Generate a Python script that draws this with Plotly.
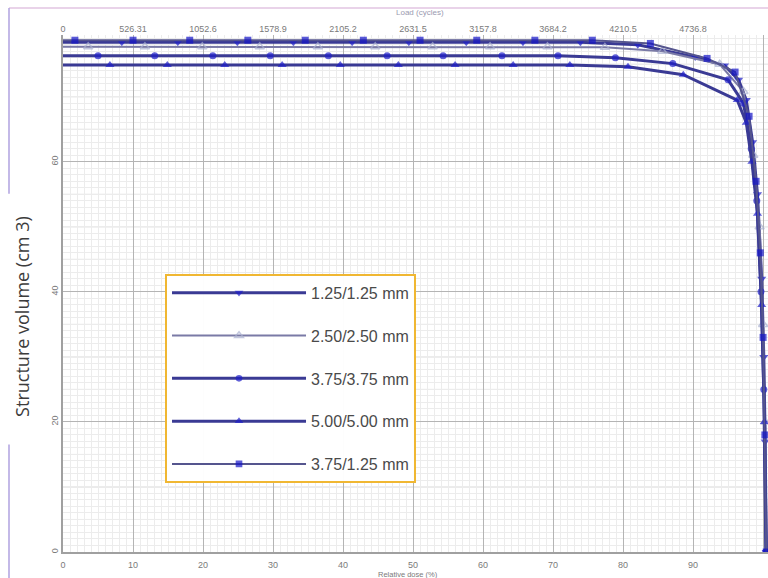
import plotly.graph_objects as go

# ---------------- data ----------------
# x: relative dose (%), y: structure volume (cm 3)
names = ["1.25/1.25 mm", "2.50/2.50 mm", "3.75/3.75 mm", "5.00/5.00 mm", "3.75/1.25 mm"]

x_125 = [0, 8.4, 16.4, 24.9, 32.9, 41.3, 49.4, 57.6, 65.7, 73.9, 82.1, 90.3, 94.5, 96.5, 97.6, 98.5, 99.2, 99.8, 100.1, 100.3, 100.45]
y_125 = [78.4, 78.4, 78.4, 78.4, 78.4, 78.4, 78.4, 78.4, 78.4, 78.4, 78.0, 76.1, 74.8, 72.6, 69.5, 63.0, 55.0, 42.0, 30.0, 17.0, 0.0]

x_250 = [0, 3.6, 11.7, 19.9, 28.1, 36.4, 44.6, 52.8, 61.0, 69.2, 77.4, 85.6, 93.8, 97.2, 98.6, 99.5, 100.0, 100.3, 100.5]
y_250 = [77.7, 77.7, 77.7, 77.7, 77.7, 77.7, 77.7, 77.7, 77.7, 77.7, 77.6, 77.0, 75.0, 70.8, 61.0, 50.0, 35.0, 20.0, 0.0]

x_375 = [0, 5.0, 13.1, 21.4, 29.6, 37.9, 46.3, 54.3, 62.7, 70.7, 78.9, 87.1, 95.0, 97.2, 98.3, 99.1, 99.7, 100.1, 100.4]
y_375 = [76.3, 76.3, 76.3, 76.3, 76.3, 76.3, 76.3, 76.3, 76.3, 76.3, 76.0, 75.1, 72.6, 69.0, 62.0, 54.0, 40.0, 25.0, 0.0]

x_500 = [0, 6.7, 14.9, 23.1, 31.3, 39.6, 47.9, 56.0, 64.3, 72.4, 80.7, 88.6, 96.3, 97.6, 98.4, 99.2, 99.8, 100.2, 100.45]
y_500 = [74.9, 74.9, 74.9, 74.9, 74.9, 74.9, 74.9, 74.9, 74.9, 74.9, 74.6, 73.4, 69.5, 66.0, 60.0, 52.0, 38.0, 20.0, 0.0]

x_3751 = [0, 1.7, 10.0, 18.1, 26.4, 34.6, 42.9, 51.0, 59.1, 67.4, 75.6, 83.9, 92.0, 96.0, 98.0, 99.0, 99.6, 100.0, 100.25, 100.45]
y_3751 = [78.7, 78.7, 78.7, 78.7, 78.7, 78.7, 78.7, 78.7, 78.7, 78.7, 78.7, 78.2, 75.9, 73.8, 67.0, 57.0, 46.0, 33.0, 18.0, 0.0]

xs = [x_125, x_250, x_375, x_500, x_3751]
ys = [y_125, y_250, y_375, y_500, y_3751]

x_ticks = [0, 10, 20, 30, 40, 50, 60, 70, 80, 90, 100]
y_ticks = [0, 20, 40, 60]
top_ticks = [0, 526.31, 1052.6, 1578.9, 2105.2, 2631.5, 3157.8, 3684.2, 4210.5, 4736.8, 5263.1]
top_labels = ["0", "526.31", "1052.6", "1578.9", "2105.2", "2631.5", "3157.8", "3684.2", "4210.5", "4736.8", "5263.1"]

# ---------------- styles ----------------
line_cols = ["#3a3a94", "#7a7aa6", "#3a3a94", "#3a3a94", "#55558e"]
line_w = [3, 2, 3, 3, 2]
mk_sym = ["triangle-down", "triangle-up-open", "circle", "triangle-up", "square"]
mk_col = ["#1e1ec8", "#aab0d0", "#1e1ec8", "#1e1ec8", "#1414c8"]
mk_size = [8, 8, 7, 8, 7]

X_MAX = 100.7
Y_MAX = 79.5

fig = go.Figure()
for i in range(5):
    sizes = [0] + [mk_size[i]] * (len(xs[i]) - 1)
    fig.add_trace(go.Scatter(
        x=xs[i], y=ys[i], name=names[i], mode="lines+markers",
        line=dict(color=line_cols[i], width=line_w[i]),
        marker=dict(symbol=mk_sym[i], color=mk_col[i], size=sizes,
                    line=dict(color=mk_col[i], width=1.5 if i == 1 else 0)),
        legendgroup="g%d" % i,
    ))

# invisible trace on the top axis so it is drawn
fig.add_trace(go.Scatter(x=[0], y=[0], xaxis="x2", mode="markers",
                         marker=dict(size=0, opacity=0), showlegend=False, hoverinfo="skip"))

# medium grid lines every 5 units on y
shapes = []
for v in range(5, 80, 5):
    if v % 20 != 0:
        shapes.append(dict(type="line", xref="paper", yref="y", x0=0, x1=1, y0=v, y1=v,
                           line=dict(color="#d4d4d4", width=1), layer="below"))

# outer frame of the original screenshot
shapes.append(dict(type="line", xref="paper", yref="paper", x0=-0.0766, x1=1.02, y0=1.0524, y1=1.0524,
                   line=dict(color="#e2c4e2", width=1.5)))
shapes.append(dict(type="line", xref="paper", yref="paper", x0=-0.0766, x1=-0.0766, y0=1.0524, y1=0.693,
                   line=dict(color="#b0a2e0", width=1.5)))
shapes.append(dict(type="line", xref="paper", yref="paper", x0=-0.0766, x1=-0.0766, y0=0.208, y1=-0.06,
                   line=dict(color="#b0a2e0", width=1.5)))

tick_font = dict(family="Liberation Sans, Arial", size=9, color="#7a7a7a")

fig.update_layout(
    width=768, height=578,
    margin=dict(l=63, r=0, t=35, b=26, autoexpand=False),
    paper_bgcolor="white", plot_bgcolor="white",
    showlegend=True,
    legend=dict(
        x=0.1447, y=0.538, xanchor="left", yanchor="top",
        bgcolor="rgba(255,255,255,0.97)", bordercolor="#f0b732", borderwidth=2,
        font=dict(family="Liberation Sans, Arial", size=16, color="#4a4a4a"),
        itemwidth=134, tracegroupgap=19, traceorder="grouped",
    ),
    xaxis=dict(
        range=[0, X_MAX], tickvals=x_ticks, ticktext=[str(t) for t in x_ticks],
        showgrid=True, gridcolor="#b4b4b4", gridwidth=1,
        minor=dict(dtick=1, showgrid=True, gridcolor="#ececec", gridwidth=1),
        showline=True, linecolor="#a0a0a0", linewidth=1.5, zeroline=False,
        ticks="", tickfont=tick_font, automargin=False, ticklabelstandoff=3,
    ),
    xaxis2=dict(
        range=[0, 5263.1 * X_MAX / 100], overlaying="x", side="top",
        tickvals=top_ticks, ticktext=top_labels, showgrid=False, zeroline=False,
        ticks="", tickfont=tick_font, showline=False, automargin=False,
    ),
    yaxis=dict(
        range=[0, Y_MAX], tickvals=y_ticks, ticktext=[str(t) for t in y_ticks],
        showgrid=True, gridcolor="#b4b4b4", gridwidth=1,
        minor=dict(dtick=1, showgrid=True, gridcolor="#ececec", gridwidth=1),
        showline=True, linecolor="#a0a0a0", linewidth=1.5, zeroline=False,
        ticks="", tickfont=tick_font, tickangle=-90, automargin=False,
    ),
    shapes=shapes,
    annotations=[
        dict(text="Structure volume (cm 3)", xref="paper", yref="paper", x=-0.058, y=0.455,
             xanchor="center", yanchor="middle",
             textangle=-90, showarrow=False, bgcolor="white",
             font=dict(family="Open Sans", size=18, color="#3c3c3c")),
        dict(text="Relative dose (%)", xref="paper", yref="paper", x=0.49, y=-0.0437,
             xanchor="center", yanchor="middle", showarrow=False,
             font=dict(family="Liberation Sans, Arial", size=7.5, color="#7a7a7a")),
        dict(text="Load (cycles)", xref="paper", yref="paper", x=0.506, y=1.043,
             xanchor="center", yanchor="middle", showarrow=False,
             font=dict(family="Liberation Sans, Arial", size=8, color="#9a9ab0")),
    ],
)

# remove the default 8px page margin so the 768x578 figure fills the window exactly
fig.write_html("out.html", config={"displayModeBar": False},
               post_script="document.body.style.margin='0px';document.body.style.overflow='hidden';")
